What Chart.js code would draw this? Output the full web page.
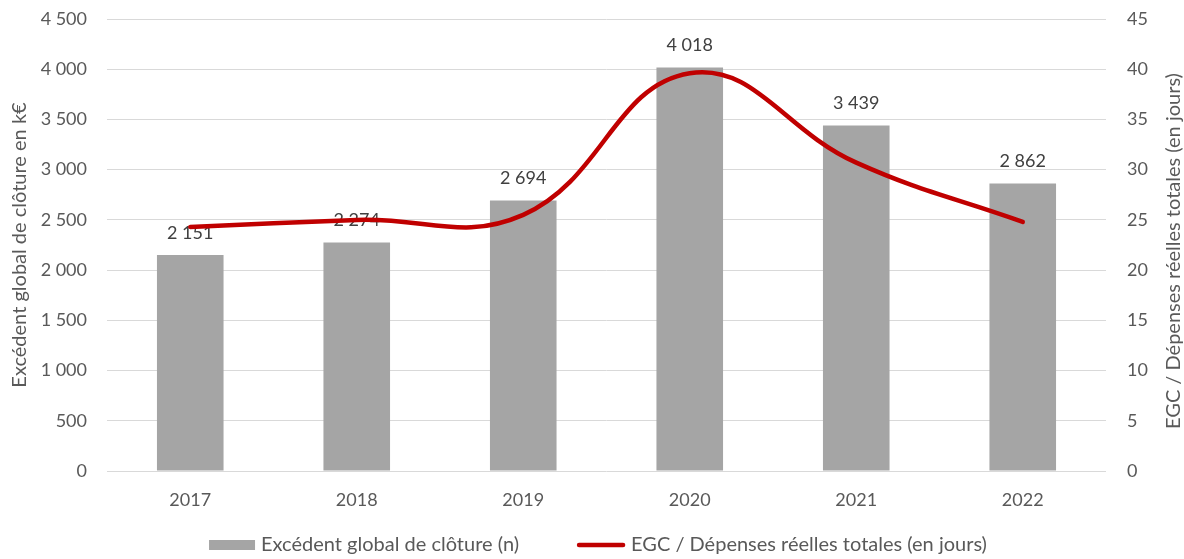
<!DOCTYPE html>
<html>
<head>
<meta charset="utf-8">
<script src="https://cdn.jsdelivr.net/npm/chart.js@4.4.0/dist/chart.umd.min.js"></script>
<style>
  html, body { margin: 0; padding: 0; background: #fff; }
  #wrap { width: 1184px; height: 559px; }
</style>
</head>
<body>
<div id="wrap"><canvas id="myChart"></canvas></div>
<script>
const years = ["2017", "2018", "2019", "2020", "2021", "2022"];
const excedent = [2151, 2274, 2694, 4018, 3439, 2862];
const egcJours = [24.3, 25.0, 25.5, 39.6, 30.7, 24.8];
const leftAxis = { min: 0, max: 4500, step: 500 };
const rightAxis = { min: 0, max: 45, step: 5 };

const labelBar = "Excédent global de clôture (n)";
const labelLine = "EGC / Dépenses réelles totales (en jours)";
const titleLeft = "Excédent global de clôture en k€";
const titleRight = "EGC / Dépenses réelles totales (en jours)";

const FONT = "Lato, 'Open Sans', sans-serif";
const GREY_TEXT = "#595959";
const BAR_COLOR = "#a5a5a5";
const LINE_COLOR = "#c00000";

// 2151 -> "2 151"
const fmt = (v) => String(v).replace(/\B(?=(\d{3})+(?!\d))/g, " ");

// value above each bar, drawn before the line so the line sits on top
const valueLabels = {
  id: "valueLabels",
  afterDatasetDraw(chart, args) {
    if (args.meta.type !== "bar") return;
    const ctx = chart.ctx;
    ctx.save();
    ctx.font = "18px " + FONT;
    ctx.fillStyle = "#404040";
    ctx.textAlign = "center";
    ctx.textBaseline = "middle";
    args.meta.data.forEach((bar, i) => {
      ctx.fillText(fmt(excedent[i]), bar.x, bar.y - 22);
    });
    ctx.restore();
  },
};

// right axis title (reads bottom to top) and the legend row
const extras = {
  id: "extras",
  afterDraw(chart) {
    const ctx = chart.ctx;

    ctx.save();
    ctx.font = "20px " + FONT;
    ctx.fillStyle = GREY_TEXT;
    ctx.textAlign = "center";
    ctx.textBaseline = "middle";
    ctx.translate(1174, 251);
    ctx.rotate(-Math.PI / 2);
    ctx.fillText(titleRight, 0, 0);
    ctx.restore();

    ctx.save();
    ctx.font = "20px " + FONT;
    ctx.textBaseline = "middle";
    const w1 = ctx.measureText(labelBar).width;
    const w2 = ctx.measureText(labelLine).width;
    const boxW = 46, lineW = 48, gapText = 6, gapItems = 58;
    const total = boxW + gapText + w1 + gapItems + lineW + gapText + w2;
    let x = chart.width / 2 + 6 - total / 2;
    const y = 545;

    ctx.fillStyle = BAR_COLOR;
    ctx.fillRect(x, y - 5, boxW, 10);
    x += boxW + gapText;
    ctx.fillStyle = GREY_TEXT;
    ctx.fillText(labelBar, x, y);
    x += w1 + gapItems;

    ctx.strokeStyle = LINE_COLOR;
    ctx.lineWidth = 4.5;
    ctx.lineCap = "round";
    ctx.beginPath();
    ctx.moveTo(x + 2, y);
    ctx.lineTo(x + lineW - 2, y);
    ctx.stroke();
    x += lineW + gapText;
    ctx.fillText(labelLine, x, y);
    ctx.restore();
  },
};

// fixed widths for the value axes, no extra room above/below the plot
const fitY = (width) => (s) => {
  s.width = width;
  s.paddingTop = 0;
  s.paddingBottom = 0;
};

new Chart(document.getElementById("myChart"), {
  data: {
    labels: years,
    datasets: [
      {
        type: "line",
        label: labelLine,
        data: egcJours,
        yAxisID: "y1",
        borderColor: LINE_COLOR,
        borderWidth: 4.5,
        borderCapStyle: "round",
        tension: 0.42,
        pointRadius: 0,
        fill: false,
        order: 0,
      },
      {
        type: "bar",
        label: labelBar,
        data: excedent,
        yAxisID: "y",
        backgroundColor: BAR_COLOR,
        borderWidth: 0,
        barPercentage: 0.4,
        categoryPercentage: 1,
        order: 1,
      },
    ],
  },
  options: {
    responsive: true,
    maintainAspectRatio: false,
    animation: false,
    layout: { padding: { top: 19, right: 0, bottom: 44, left: 0 } },
    plugins: {
      legend: { display: false },
      tooltip: { enabled: false },
    },
    scales: {
      x: {
        grid: { display: false },
        border: { display: false },
        ticks: { color: GREY_TEXT, font: { family: FONT, size: 18 }, padding: 10 },
        afterFit: (s) => { s.height = 44; },
      },
      y: {
        position: "left",
        min: leftAxis.min,
        max: leftAxis.max,
        grid: { color: "#d9d9d9", lineWidth: 1, drawTicks: false },
        border: { display: false },
        ticks: {
          stepSize: leftAxis.step,
          color: GREY_TEXT,
          font: { family: FONT, size: 18 },
          padding: 20,
          callback: (v) => fmt(v),
        },
        title: {
          display: true,
          text: titleLeft,
          color: GREY_TEXT,
          font: { family: FONT, size: 20 },
          padding: { top: 8, bottom: 0 },
        },
        afterFit: fitY(107),
      },
      y1: {
        position: "right",
        min: rightAxis.min,
        max: rightAxis.max,
        grid: { display: false, drawTicks: false },
        border: { display: false },
        ticks: {
          stepSize: rightAxis.step,
          color: GREY_TEXT,
          font: { family: FONT, size: 18 },
          padding: 21,
        },
        afterFit: fitY(78),
      },
    },
  },
  plugins: [valueLabels, extras],
});
</script>
</body>
</html>
